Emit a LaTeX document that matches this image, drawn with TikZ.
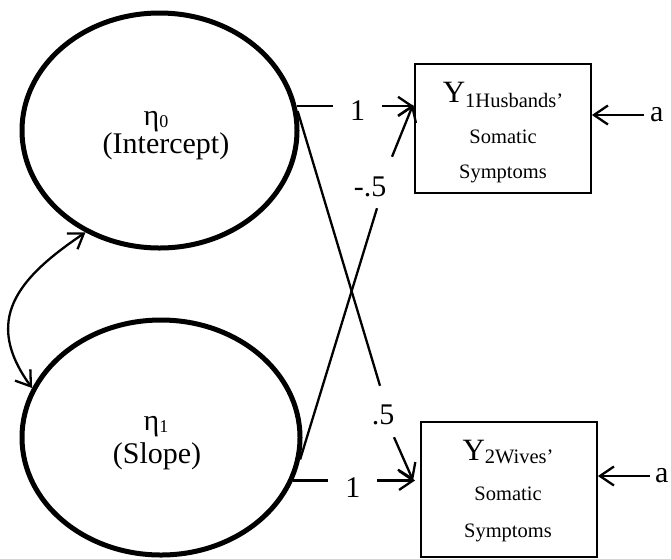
\documentclass[tikz,border=0pt]{standalone}
\usepackage{fontspec}
\setmainfont{Liberation Serif}
\usetikzlibrary{arrows.meta,shapes.geometric,calc}
\tikzset{
  latent/.style={draw, ellipse, line width=5pt, inner sep=0pt},
  obs/.style={draw, rectangle, line width=1.8pt, inner sep=0pt},
  conn/.style={line width=2.3pt},
  big/.style={font=\fontsize{30}{30}\selectfont},
  small/.style={font=\fontsize{20.5}{20.5}\selectfont},
  lbl/.style={font=\fontsize{30}{30}\selectfont, inner sep=0pt},
  >={Straight Barb[length=14pt,width=19pt]}
}
\begin{document}
\begin{tikzpicture}[x=1pt,y=1pt]
\useasboundingbox (0,0) rectangle (671,-558);
% latent variables
\node[latent, minimum width=275pt, minimum height=235pt] (eta0) at (159.5,-130.5) {};
\node[latent, minimum width=278pt, minimum height=235pt] (eta1) at (161,-437.5) {};
\node[big, anchor=base] (t0a) at (156,-125) {η\raisebox{-2pt}{\fontsize{18}{18}\selectfont 0}};
\node[big, anchor=base] (t0b) at (166,-153) {(Intercept)};
\node[big, anchor=base] (t1a) at (156,-430) {η\raisebox{-2pt}{\fontsize{18}{18}\selectfont 1}};
\node[big, anchor=base] (t1b) at (157,-463) {(Slope)};
% observed variables
\node[obs, minimum width=176pt, minimum height=129pt] (y1) at (503,-128.5) {};
\node[obs, minimum width=176pt, minimum height=135pt] (y2) at (509,-489.5) {};
\node[anchor=base, inner sep=0pt] (y1a) at (503,-102) {\fontsize{31}{31}\selectfont Y\raisebox{-5pt}{\fontsize{20.5}{20.5}\selectfont 1Husbands’}};
\node[small, anchor=base] (y1b) at (503,-143) {Somatic};
\node[small, anchor=base] (y1c) at (503,-178) {Symptoms};
\node[anchor=base, inner sep=0pt] (y2a) at (508,-460) {\fontsize{31}{31}\selectfont Y\raisebox{-3pt}{\fontsize{20.5}{20.5}\selectfont 2Wives’}};
\node[small, anchor=base] (y2b) at (508,-500) {Somatic};
\node[small, anchor=base] (y2c) at (508,-537) {Symptoms};
% loadings of 1
\draw[conn,->] (eta0.10) -- node[lbl, fill=white, pos=0.52, inner xsep=17pt, yshift=-4pt] (l1a) {1} (eta0.10 -| y1.west);
\draw[conn,->,shorten >=5pt] (eta1.-18) -- node[lbl, fill=white, pos=0.47, inner xsep=17pt, yshift=-7pt] (l1b) {1} (eta1.-18 -| y2.west);
% loading .5
\node[lbl] (l5) at (383,-415) {.5};
\draw[conn] (eta0.8) -- ([xshift=-3pt,yshift=19pt]l5.north);
\draw[conn,->] ([xshift=11pt,yshift=-12pt]l5.south) -- ([xshift=-7pt,yshift=9pt]y2.west);
% loading -.5
\node[lbl] (lm5) at (370,-187) {-.5};
\draw[conn] (eta1.-9) -- ([xshift=7pt,yshift=-11pt]lm5.south);
\draw[conn,->] ([xshift=22pt,yshift=20pt]lm5.north) -- ([xshift=-1pt,yshift=24pt]y1.west);
% residuals
\node[lbl, anchor=west, inner xsep=6pt] (a1) at (644,-115) {a};
\draw[conn,->] (a1.west) -- (a1.west -| y1.east);
\node[lbl, anchor=west, inner xsep=5pt] (a2) at (650,-476) {a};
\draw[conn,->] (a2.west) -- (a2.west -| y2.east);
% covariance
\draw[conn,<->] (eta0.234) to[out=214,in=126,looseness=1.3] (eta1.159);
\end{tikzpicture}
\end{document}
